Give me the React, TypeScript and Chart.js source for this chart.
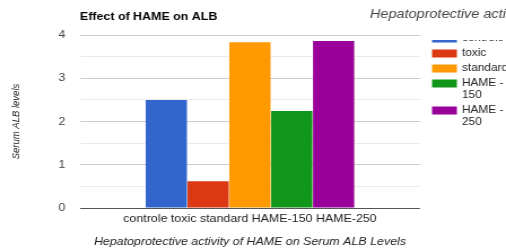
import React, { useEffect, useRef } from 'react';
import { Chart, registerables } from 'chart.js';

Chart.register(...registerables);

const categories = ['controle toxic standard HAME-150 HAME-250'];
const seriesNames = ['controle', 'toxic', 'standard', 'HAME - 150', 'HAME - 250'];
const controleValues = [2.5];
const toxicValues = [0.62];
const standardValues = [3.83];
const hame150Values = [2.24];
const hame250Values = [3.86];
const seriesValues = [controleValues, toxicValues, standardValues, hame150Values, hame250Values];
const seriesColors = ['#3366cc', '#dc3912', '#ff9900', '#109618', '#990099'];
const yTickLabels = [0, 1, 2, 3, 4];
const chartTitle = 'Effect of HAME on ALB';
const sideTitle = 'Hepatoprotective activity of HAME on Serum ALB Levels';
const xTitle = 'Hepatoprotective activity of HAME on Serum ALB Levels';
const yTitle = 'Serum ALB levels';

const FONT = '"Liberation Sans", Arial, sans-serif';
const W = 448;
const H = 251;
const STRETCH = 506 / W;

function wrapWords(ctx: CanvasRenderingContext2D, text: string, maxW: number): string[] {
  const words = text.split(' ');
  const lines: string[] = [];
  let cur = '';
  for (const w of words) {
    const t = cur ? cur + ' ' + w : w;
    if (cur && ctx.measureText(t).width > maxW) {
      lines.push(cur);
      cur = w;
    } else cur = t;
  }
  if (cur) lines.push(cur);
  return lines;
}

const overlayPlugin = {
  id: 'overlay',
  afterDraw(chart: any) {
    const ctx: CanvasRenderingContext2D = chart.ctx;
    ctx.save();
    ctx.textBaseline = 'middle';
    ctx.textAlign = 'left';
    // main title
    ctx.fillStyle = '#000';
    ctx.font = `bold 11px ${FONT}`;
    ctx.fillText(chartTitle, chart.chartArea.left, 16.5);
    // side title
    ctx.fillStyle = '#444';
    ctx.font = `italic 12.8px ${FONT}`;
    ctx.fillText(sideTitle, 327.6, 14.5);
    // legend
    ctx.beginPath();
    ctx.rect(chart.chartArea.right, 40, 200, 200);
    ctx.clip();
    ctx.font = `10.5px ${FONT}`;
    const boxX = 382.5;
    const textX = 409;
    let y = 38.5;
    seriesNames.forEach((name, i) => {
      const lines = wrapWords(ctx, name, 42.5);
      ctx.fillStyle = seriesColors[i];
      ctx.fillRect(boxX, y - 4, 22, 8);
      ctx.fillStyle = '#222';
      lines.forEach((ln, j) => ctx.fillText(ln, textX, y + j * 12));
      y += 15 + 12 * (lines.length - 1);
    });
    ctx.restore();
  },
};

export default function App() {
  const ref = useRef<HTMLCanvasElement>(null);
  useEffect(() => {
    document.body.style.margin = '0';
    const chart = new Chart(ref.current!, {
      type: 'bar',
      data: {
        labels: categories,
        datasets: seriesNames.map((n, i) => ({
          label: n,
          data: seriesValues[i],
          backgroundColor: seriesColors[i],
          borderWidth: 0,
          barPercentage: 0.985,
          categoryPercentage: 0.615,
        })),
      },
      options: {
        animation: false,
        responsive: false,
        maintainAspectRatio: false,
        layout: { padding: { left: 0, right: W - 371.8, top: 35, bottom: 0 } },
        plugins: {
          legend: { display: false },
          title: { display: false },
          tooltip: { enabled: false },
        },
        scales: {
          x: {
            grid: { display: false, drawTicks: false },
            border: { display: false },
            ticks: { color: '#222', font: { family: FONT, size: 11 }, padding: 4, maxRotation: 0 },
            title: {
              display: true,
              text: xTitle,
              color: '#222',
              font: { family: FONT, size: 11, style: 'italic' },
              padding: { top: 0, bottom: 2 },
            },
            afterFit(scale: any) {
              scale.height = 43;
            },
          },
          y: {
            min: 0,
            max: 4,
            border: { display: false },
            grid: {
              drawTicks: false,
              color: (c: any) =>
                c.tick && c.tick.value === 0
                  ? '#555'
                  : Number.isInteger(c.tick?.value)
                  ? '#cccccc'
                  : '#ebebeb',
              lineWidth: 1,
            },
            ticks: {
              stepSize: 0.5,
              padding: 13,
              color: '#444',
              font: { family: FONT, size: 11 },
              callback: (v: any) => (yTickLabels.includes(Number(v)) ? String(v) : ''),
            },
            title: {
              display: true,
              text: yTitle,
              color: '#222',
              font: { family: FONT, size: 9.5, style: 'italic' },
              padding: { top: 9, bottom: 0 },
            },
            afterFit(scale: any) {
              scale.width = 70.8;
            },
          },
        },
      },
      plugins: [overlayPlugin],
    });
    return () => chart.destroy();
  }, []);
  return (
    <div style={{ width: 506, height: H, overflow: 'hidden' }}>
      <div style={{ width: W, height: H, transform: `scaleX(${STRETCH})`, transformOrigin: '0 0' }}>
        <canvas ref={ref} width={W} height={H} style={{ display: 'block', width: W, height: H }} />
      </div>
    </div>
  );
}
